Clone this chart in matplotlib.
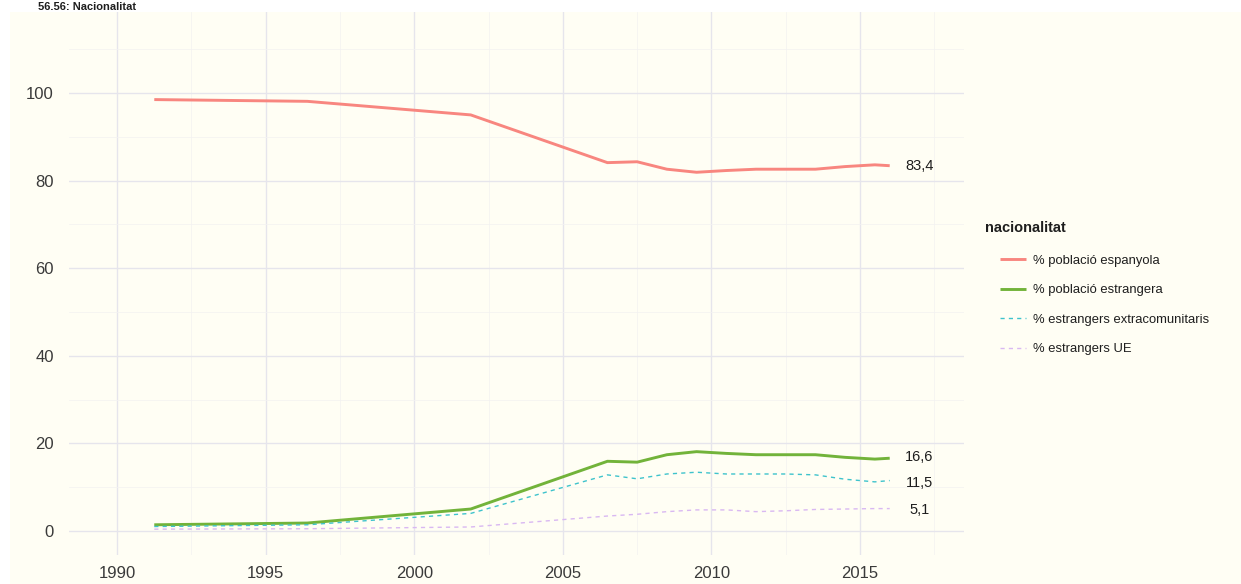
import matplotlib
matplotlib.use("Agg")
import matplotlib.pyplot as plt
import matplotlib.patches as mpatches
from matplotlib.ticker import MultipleLocator

plt.rcParams["font.family"] = ["Liberation Sans", "DejaVu Sans"]

# ------------------------------------------------------------------
# Data
# ------------------------------------------------------------------
years = [1991.25, 1996.4, 2001.9, 2006.5, 2007.5, 2008.5, 2009.5,
         2010.5, 2011.5, 2012.5, 2013.5, 2014.5, 2015.5, 2016.0]
espanyola = [98.5, 98.1, 95.0, 84.1, 84.3, 82.6, 81.9,
             82.3, 82.6, 82.6, 82.6, 83.2, 83.6, 83.4]
estrangera = [1.4, 1.8, 5.0, 15.9, 15.7, 17.4, 18.1,
              17.7, 17.4, 17.4, 17.4, 16.8, 16.4, 16.6]
extracomunitaris = [1.0, 1.4, 4.0, 12.8, 11.9, 13.0, 13.4,
                    13.0, 13.0, 13.0, 12.8, 11.8, 11.2, 11.5]
ue = [0.4, 0.5, 0.9, 3.4, 3.8, 4.4, 4.8,
      4.8, 4.4, 4.6, 4.9, 5.0, 5.1, 5.1]

series_labels = ["% població espanyola", "% població estrangera",
                 "% estrangers extracomunitaris", "% estrangers UE"]
end_labels = ["83,4", "16,6", "11,5", "5,1"]

# ------------------------------------------------------------------
# Style
# ------------------------------------------------------------------
_CREAM = "#FFFEF4"
_GRID = "#E6E5EC"
_GRID_MINOR = "#F3F2F1"
_TEXT = "#1E1E1E"
_TICK = "#3A3A3A"

styles = [
    dict(color="#F8867F", lw=2.1, ls="-"),
    dict(color="#72B33A", lw=2.1, ls="-"),
    dict(color="#3EC3CC", lw=1.0, ls=(0, (3, 3))),
    dict(color="#D9B8F2", lw=1.0, ls=(0, (3, 3))),
]

W, H = 1241, 584
fig = plt.figure(figsize=(W / 100, H / 100), dpi=100)
fig.patch.set_facecolor("white")

# cream plot background (white border top/left as in the scan)
fig.add_artist(mpatches.Rectangle((10 / W, 0), 1 - 10 / W, 1 - 12 / H,
                                  transform=fig.transFigure,
                                  facecolor=_CREAM, edgecolor="none",
                                  zorder=0))

# title squeezed into the thin white strip at the top
fig.text(38 / W, 1 - 10 / H, "56.56: Nacionalitat", fontsize=8,
         fontweight="bold", color=_TEXT, va="baseline", ha="left")

ax = fig.add_axes([69 / W, 1 - 555 / H, (964 - 69) / W, (555 - 12) / H])
ax.set_facecolor(_CREAM)
ax.set_xlim(1988.38, 2018.5)
ax.set_ylim(-5.5, 118.5)

ax.xaxis.set_major_locator(MultipleLocator(5))
ax.xaxis.set_minor_locator(MultipleLocator(2.5))
ax.yaxis.set_major_locator(MultipleLocator(20))
ax.yaxis.set_minor_locator(MultipleLocator(10))
ax.grid(which="major", color=_GRID, lw=1.0)
ax.grid(which="minor", color=_GRID_MINOR, lw=0.5)
ax.set_axisbelow(True)
for s in ax.spines.values():
    s.set_visible(False)
ax.tick_params(which="both", length=0, labelsize=12, labelcolor=_TICK)
ax.tick_params(axis="x", pad=8)
ax.tick_params(axis="y", pad=11)

all_series = [espanyola, estrangera, extracomunitaris, ue]
handles = []
for vals, lab, st in zip(all_series, series_labels, styles):
    h, = ax.plot(years, vals, label=lab, solid_capstyle="butt", **st)
    handles.append(h)

# end-of-line value labels
label_y = [espanyola[-1], estrangera[-1] + 0.2, extracomunitaris[-1] - 0.6,
           ue[-1] - 0.4]
for y, txt in zip(label_y, end_labels):
    ax.text(2017.0, y, txt, fontsize=10.5, color=_TEXT,
            ha="center", va="center")

# legend: title placed separately so the keys sit indented under it
fig.text(985 / W, 1 - 228 / H, "nacionalitat", fontsize=10.5,
         fontweight="bold", color=_TEXT, ha="left", va="center")
leg = fig.legend(handles=handles, loc="upper left",
                 bbox_to_anchor=(988 / W, 1 - 243 / H),
                 frameon=False, fontsize=9.4, handlelength=2.0,
                 labelspacing=1.33, handletextpad=0.55)
for t in leg.get_texts():
    t.set_color(_TEXT)

fig.savefig("out.png", dpi=100, facecolor=fig.get_facecolor())
